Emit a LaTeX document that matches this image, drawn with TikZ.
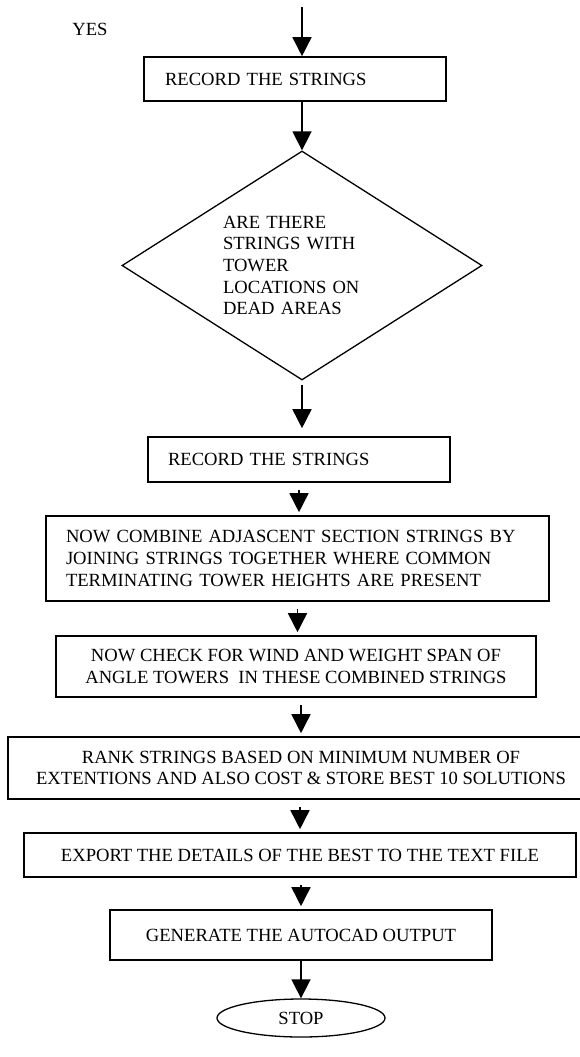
\documentclass[tikz,border=0pt]{standalone}
\usepackage{fontspec}
\setmainfont{Liberation Serif}
\usetikzlibrary{shapes.geometric,arrows.meta,positioning}

\begin{document}
\begin{tikzpicture}[x=1pt,y=-1pt,
    every node/.style={font=\fontsize{18.6}{21.7}\selectfont},
    stepbox/.style={draw,line width=1.6pt,inner ysep=0pt,align=center},
    arr/.style={line width=1.6pt,-{Triangle[length=19pt,width=19pt]}},
    gap/.style={shorten <=7pt,shorten >=3pt}]
  \useasboundingbox (0,0) rectangle (580,1057);
  \coordinate (in) at (302,7);
  \node (yes) at (90,29) {YES};
  \node[stepbox,minimum width=302pt,minimum height=44pt,text width=260pt,align=left,inner xsep=21pt] (rec1) at (295,79) {RECORD THE STRINGS};
  \node[draw,diamond,line width=1.3pt,shape aspect=1.57,minimum width=360pt,minimum height=229pt,inner sep=0pt,text width=158pt,align=left] (dead) at (302,265.5)
    {ARE THERE\\STRINGS WITH\\TOWER\\LOCATIONS ON\\DEAD AREAS};
  \node[stepbox,minimum width=302pt,minimum height=45pt,text width=262pt,align=left,inner xsep=20pt] (rec2) at (299,459.5) {RECORD THE STRINGS};
  \node[stepbox,minimum width=503pt,minimum height=85pt,text width=463pt,align=left,inner xsep=20pt] (comb) at (297.5,558.5)
    {NOW COMBINE ADJASCENT SECTION STRINGS BY\\JOINING STRINGS TOGETHER WHERE COMMON\\TERMINATING TOWER HEIGHTS ARE PRESENT};
  \node[stepbox,minimum width=480pt,minimum height=61pt] (check) at (296,666.5)
    {NOW CHECK FOR WIND AND WEIGHT SPAN OF\\ANGLE TOWERS~ IN THESE COMBINED STRINGS};
  \node[stepbox,minimum width=586pt,minimum height=62pt] (rank) at (301,768)
    {RANK STRINGS BASED ON MINIMUM NUMBER OF\\EXTENTIONS AND ALSO COST \& STORE BEST 10 SOLUTIONS};
  \node[stepbox,minimum width=552pt,minimum height=44pt] (export) at (300,855) {EXPORT THE DETAILS OF THE BEST TO THE TEXT FILE};
  \node[stepbox,minimum width=382pt,minimum height=50pt] (cad) at (301,935) {GENERATE THE AUTOCAD OUTPUT};
  \node[draw,ellipse,line width=1.3pt,minimum width=168pt,minimum height=38pt,inner sep=0pt] (stop) at (301,1018) {STOP};

  \draw[arr] (in) -- (in |- rec1.north);
  \draw[arr] (rec1.south -| dead.north) -- (dead.north);
  \draw[arr,shorten <=4pt,shorten >=8pt] (dead.south) -- (dead.south |- rec2.north);
  \draw[arr,gap] (rec2.south) -- (rec2.south |- comb.north);
  \draw[arr,gap] (comb.south) -- (comb.south |- check.north);
  \draw[arr,gap] (check.south -| rank.north) -- (rank.north);
  \draw[arr,gap] (rank.south -| export.north) -- (export.north);
  \draw[arr,gap] (export.south -| cad.north) -- (cad.north);
  \draw[arr] (cad.south) -- (cad.south |- stop.north);
\end{tikzpicture}
\end{document}
